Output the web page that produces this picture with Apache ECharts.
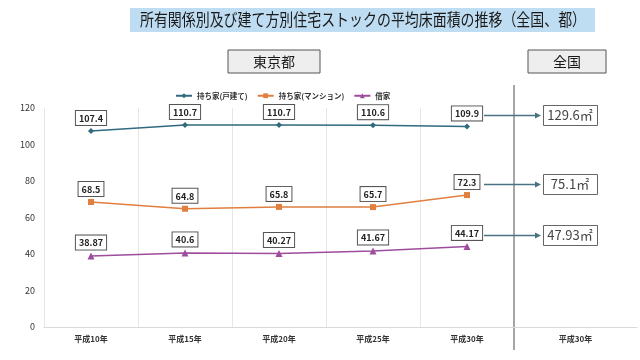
<!DOCTYPE html>
<html><head><meta charset="utf-8">
<script src="https://cdn.jsdelivr.net/npm/echarts@6/dist/echarts.min.js"></script>
<style>html,body{margin:0;padding:0;background:#fff}#c{width:640px;height:360px}</style>
</head><body><div id="c"></div>
<script>
const categories = ['平成10年','平成15年','平成20年','平成25年','平成30年'];
const nationalCategory = ['平成30年'];
const seriesNames = ['持ち家(戸建て)','持ち家(マンション)','借家'];
const detached = [107.4, 110.7, 110.7, 110.6, 109.9];
const mansion = [68.5, 64.8, 65.8, 65.7, 72.3];
const rental = [38.87, 40.6, 40.27, 41.67, 44.17];
const national = [129.6, 75.1, 47.93];
const yTicks = {min: 0, max: 120, interval: 20};

const FONT = '"Noto Sans CJK JP", "Noto Sans", sans-serif';
const colors = ['#2F6A7E', '#E07F3F', '#9E4C9C'];
const symbols = ['diamond', 'rect', 'triangle'];
const sizes = [6, 6, 7];
const allData = [detached, mansion, rental];

const chart = echarts.init(document.getElementById('c'), null, {renderer: 'canvas'});

const labelStyle = {
  show: true, position: 'top', distance: 3,
  backgroundColor: '#fff', borderColor: '#555', borderWidth: 1,
  padding: [3, 3, 2, 3], fontSize: 9, fontWeight: 'bold', color: '#222',
  fontFamily: FONT
};

const option = {
  animation: false,
  textStyle: {fontFamily: FONT},
  legend: {
    top: 87, left: 170, itemWidth: 16, itemHeight: 6, itemGap: 9,
    textStyle: {fontSize: 7.5, fontWeight: 'bold', color: '#333', fontFamily: FONT},
    data: seriesNames
  },
  grid: [
    {left: 44, right: 126, top: 108, bottom: 33},
    {left: 514, right: 3, top: 108, bottom: 33}
  ],
  xAxis: [
    {type: 'category', gridIndex: 0, data: categories,
     axisLine: {lineStyle: {color: '#d9d9d9'}}, axisTick: {show: false},
     splitLine: {show: true, lineStyle: {color: '#e6e6e6'}},
     axisLabel: {fontSize: 8, fontWeight: 'bold', color: '#333', margin: 8, fontFamily: FONT}},
    {type: 'category', gridIndex: 1, data: nationalCategory,
     axisLine: {lineStyle: {color: '#d9d9d9'}}, axisTick: {show: false},
     axisLabel: {fontSize: 8, fontWeight: 'bold', color: '#333', margin: 8, fontFamily: FONT}}
  ],
  yAxis: [
    {type: 'value', gridIndex: 0, min: yTicks.min, max: yTicks.max, interval: yTicks.interval,
     axisLine: {show: false}, axisTick: {show: false}, splitLine: {show: false},
     axisLabel: {fontSize: 9, color: '#333', margin: 9}},
    {type: 'value', gridIndex: 1, min: yTicks.min, max: yTicks.max, interval: yTicks.interval,
     show: false, splitLine: {show: false}}
  ],
  series: seriesNames.map((n, i) => ({
    name: n, type: 'line', xAxisIndex: 0, yAxisIndex: 0,
    data: allData[i], symbol: symbols[i], symbolSize: sizes[i],
    lineStyle: {color: colors[i], width: 1.5},
    itemStyle: {color: colors[i]},
    label: labelStyle
  }))
};
chart.setOption(option);

// graphic overlays
const g = [];
g.push({type: 'rect', shape: {x: 130, y: 8, width: 465, height: 24}, style: {fill: '#BFDDF2'}});
g.push({type: 'text', x: 363, y: 20, scaleX: 0.82, style: {text: '所有関係別及び建て方別住宅ストックの平均床面積の推移（全国、都）', font: '17px ' + FONT, fill: '#1a1a1a', align: 'center', verticalAlign: 'middle'}});
g.push({type: 'rect', shape: {x: 228, y: 50, width: 92, height: 23}, style: {fill: '#EEEEEE', stroke: '#555', lineWidth: 1}});
g.push({type: 'text', x: 274, y: 62, style: {text: '東京都', font: '14px ' + FONT, fill: '#1a1a1a', align: 'center', verticalAlign: 'middle'}});
g.push({type: 'rect', shape: {x: 528, y: 50, width: 78, height: 23}, style: {fill: '#EEEEEE', stroke: '#555', lineWidth: 1}});
g.push({type: 'text', x: 567, y: 62, style: {text: '全国', font: '14px ' + FONT, fill: '#1a1a1a', align: 'center', verticalAlign: 'middle'}});
g.push({type: 'line', shape: {x1: 514, y1: 85, x2: 514, y2: 350}, style: {stroke: '#A6A6A6', lineWidth: 2}});

const last = categories.length - 1;
allData.forEach((arr, i) => {
  const p = chart.convertToPixel({xAxisIndex: 0, yAxisIndex: 0}, [last, arr[last]]);
  const y = Math.round(p[1] - 11.5) + 0.5;
  const x0 = p[0] + 17;
  const x1 = 541;
  g.push({type: 'line', shape: {x1: x0, y1: y, x2: x1 - 5, y2: y}, style: {stroke: '#4A7282', lineWidth: 1.5}});
  g.push({type: 'polygon', shape: {points: [[x1, y], [x1 - 6, y - 3], [x1 - 6, y + 3]]}, style: {fill: '#4A7282'}});
  g.push({type: 'rect', shape: {x: 543.5, y: y - 10, width: 54, height: 20}, style: {fill: '#fff', stroke: '#666', lineWidth: 1}});
  g.push({type: 'text', x: 570, y: y, style: {text: national[i] + '㎡', font: '13px ' + FONT, fill: '#444', align: 'center', verticalAlign: 'middle'}});
});
chart.setOption({graphic: {elements: g}});
</script></body></html>
